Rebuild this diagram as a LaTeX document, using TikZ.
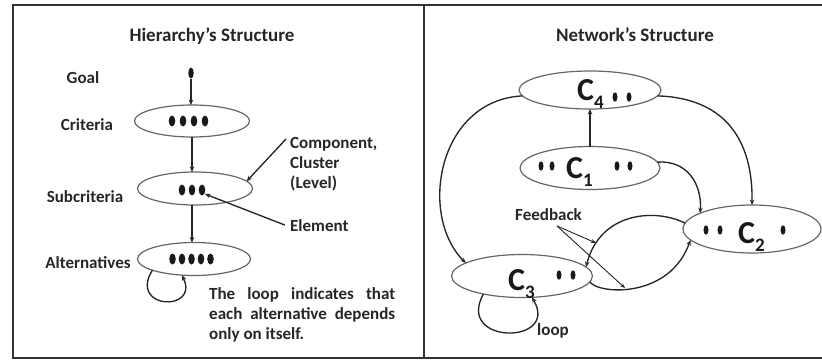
\documentclass[tikz,border=0pt]{standalone}
\usepackage{fontspec}
\setmainfont{Carlito}
\usetikzlibrary{shapes.geometric,arrows.meta}
\newcommand\Csub[1]{\fontsize{32}{32}\selectfont C\raisebox{-8pt}{\fontsize{19}{19}\selectfont #1}}
\begin{document}
\begin{tikzpicture}[x=1pt,y=-1pt,
  lbl/.style={font=\fontsize{17}{20}\selectfont\bfseries, text=black!85, inner sep=0pt, anchor=base},
  ttl/.style={font=\fontsize{19}{22}\selectfont\bfseries, text=black!85, inner sep=0pt, anchor=base},
  clab/.style={font=\bfseries, text=black!90, inner sep=0pt, anchor=base west},
  clus/.style={ellipse, draw=black!60, line width=1.2pt, inner sep=0pt, outer sep=0pt, fill=white},
  arr/.style={-{Stealth[length=5.5pt,width=4.5pt]}, line width=1.35pt, black!85},
  thinarr/.style={-{Stealth[length=5pt,width=4pt]}, line width=0.9pt, black!85},
  frame/.style={line width=1.6pt, black!80},
  dotc/.style={fill=black!90}]
\useasboundingbox (0,0) rectangle (822,360);
% frame
\draw[frame] (822,5) -- (13,5) -- (13,358) -- (822,358);
\draw[frame] (424,5) -- (424,358);
% ---------- left panel ----------
\node[ttl] (htitle) at (212,41) {Hierarchy’s Structure};
\node[lbl] (lgoal) at (83,83) {Goal};
\node[lbl] (lcrit) at (87,130) {Criteria};
\node[lbl] (lsub) at (85,202) {Subcriteria};
\node[lbl] (lalt) at (88,268) {Alternatives};
\node[ellipse, fill=black!90, minimum width=5.5pt, minimum height=11pt, inner sep=0pt] (goal) at (191,73) {};
\node[clus, minimum width=115pt, minimum height=32pt] (crit) at (192,121) {};
\node[clus, minimum width=115pt, minimum height=33pt] (sub) at (195,188.5) {};
\node[clus, minimum width=113pt, minimum height=33pt] (alt) at (194,259) {};
\foreach \x in {172,183,194,205} \fill[dotc] (\x,121) ellipse (3.3pt and 5.5pt);
\foreach \x in {182,192,202} \fill[dotc] (\x,190) ellipse (3.3pt and 5.5pt);
\foreach \x in {172.5,182,191.5,201,210.5} \fill[dotc] (\x,259) ellipse (3.3pt and 5.5pt);
\draw[arr] (goal.south) -- (goal.south |- crit.north);
\draw[arr] (192,137) -- (192,172);
\draw[arr] (192,205) -- (192,242.5);
\draw[arr] (alt.195) .. controls (128,310) and (200,312) .. (alt.233);
\node[lbl, anchor=north west, align=left] (comp) at (290,137) {Component,\\Cluster\\(Level)};
\coordinate (compa) at (286,139);
\draw[arr] (compa) -- (sub.8);
\node[lbl, anchor=base west] (elem) at (290,231) {Element};
\coordinate (eldot) at (205,194);
\draw[arr] ([xshift=-5pt]elem.west) -- (eldot);
\node[lbl, anchor=north west, align=left] (note) at (209,287)
  {\makebox[186pt][s]{The loop indicates that}\\
   \makebox[186pt][s]{each alternative depends}\\
   only on itself.};
% ---------- right panel ----------
\node[ttl] (ntitle) at (635,41) {Network’s Structure};
\node[clus, minimum width=142pt, minimum height=38pt] (c4) at (590,90) {};
\node[clus, minimum width=140pt, minimum height=43pt] (c1) at (590,168) {};
\node[clus, minimum width=138pt, minimum height=48pt] (c2) at (752,229) {};
\node[clus, minimum width=141pt, minimum height=43pt] (c3) at (522,276) {};
\node[clab] (c4t) at (577,100) {\Csub{4}};
\node[clab] (c1t) at (566,178) {\Csub{1}};
\node[clab] (c2t) at (738,243) {\Csub{2}};
\node[clab] (c3t) at (508,290) {\Csub{3}};
\foreach \x/\y in {615/97,629/97, 541/166,552/166,617/166,630/166, 706/230,720/230,783/230, 559/275,573/275}
  \fill[dotc] (\x,\y) ellipse (2.5pt and 4.7pt);
\draw[arr] (c1.north) -- (c4.south);
\draw[arr] (c4.185) .. controls (438,100) and (418,215) .. (c3.167);
\draw[arr] (c4.355) .. controls (725,98) and (753,140) .. (c2.north);
\draw[arr] (c1.5) .. controls (688,160) and (702,185) .. (c2.163);
\draw[arr] (c2.175) .. controls (655,208) and (600,212) .. (c3.8);
\draw[arr] (c3.355) .. controls (600,295) and (670,298) .. (c2.190);
\draw[arr] (c3.205) .. controls (455,345) and (560,345) .. (c3.295);
\node[lbl, anchor=base west] (fb) at (515,220) {Feedback};
\coordinate (fbo) at (557,226);
\coordinate (fb1) at (596,243);
\coordinate (fb2) at (625,288);
\draw[thinarr] (fbo) -- (fb1);
\draw[thinarr] (fbo) -- (fb2);
\node[lbl, anchor=base west] (loopt) at (537,335) {loop};
\end{tikzpicture}
\end{document}
